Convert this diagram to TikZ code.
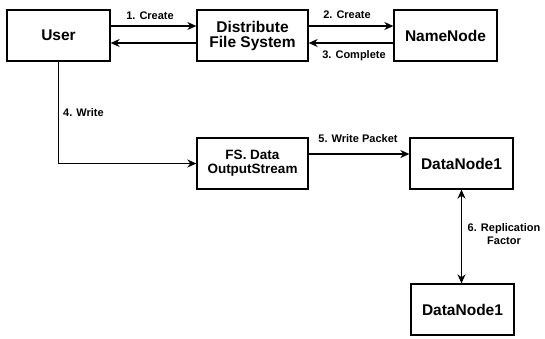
\documentclass[tikz,border=0pt]{standalone}
\usepackage{fontspec}
\setmainfont{Liberation Sans}
\usetikzlibrary{arrows.meta}
\begin{document}
\begin{tikzpicture}[x=1pt,y=-1pt,
  box/.style={draw=black,line width=1.3pt,minimum width=103pt,minimum height=51pt,inner sep=1pt,align=center,font=\fontsize{15.5}{17}\selectfont\bfseries},
  wbox/.style={box,minimum width=111pt},
  arr/.style={line width=1.3pt,-{Stealth[length=9pt,width=8pt]}},
  darr/.style={line width=1.3pt,{Stealth[length=9pt,width=8pt]}-{Stealth[length=9pt,width=8pt]}},
  lbl/.style={font=\fontsize{11}{12.5}\selectfont\bfseries,inner sep=0pt,align=center}]
\useasboundingbox (0,0) rectangle (545,338);
\node[box] (user) at (58.5,35.5) {User};
\node[wbox] (dfs) at (252.5,35.5) {Distribute\\[-2pt]File System};
\node[box] (nn) at (445.5,35.5) {NameNode};
\node[wbox,font=\fontsize{13.5}{15}\selectfont\bfseries] (fs) at (252.5,163.5) {FS. Data\\[-1pt]OutputStream};
\node[box] (dn1) at (461.5,163.5) {DataNode1};
\node[box] (dn2) at (462.5,309.5) {DataNode1};
\draw[arr] ([yshift=9.5pt]user.east) -- ([yshift=9.5pt]user.east -| dfs.west);
\draw[arr] ([yshift=-7.5pt]dfs.west) -- ([yshift=-7.5pt]dfs.west -| user.east);
\draw[arr] ([yshift=9.5pt]dfs.east) -- ([yshift=9.5pt]dfs.east -| nn.west);
\draw[arr] ([yshift=-7.5pt]nn.west) -- ([yshift=-7.5pt]nn.west -| dfs.east);
\draw[arr] (user.south) |- (fs.west);
\draw[arr] ([yshift=9.5pt]fs.east) -- ([yshift=9.5pt]fs.east -| dn1.west);
\draw[darr] (dn1.south) -- (dn1.south |- dn2.north);
\node[lbl] (l1) at (150,16) {1. Create};
\node[lbl] (l2) at (347,15) {2. Create};
\node[lbl] (l3) at (354,56) {3. Complete};
\node[lbl,anchor=west] (l4) at (63,113) {4. Write};
\node[lbl] (l5) at (358,139) {5. Write Packet};
\node[lbl] (l6) at (504,234) {6. Replication\\Factor};
\end{tikzpicture}
\end{document}
